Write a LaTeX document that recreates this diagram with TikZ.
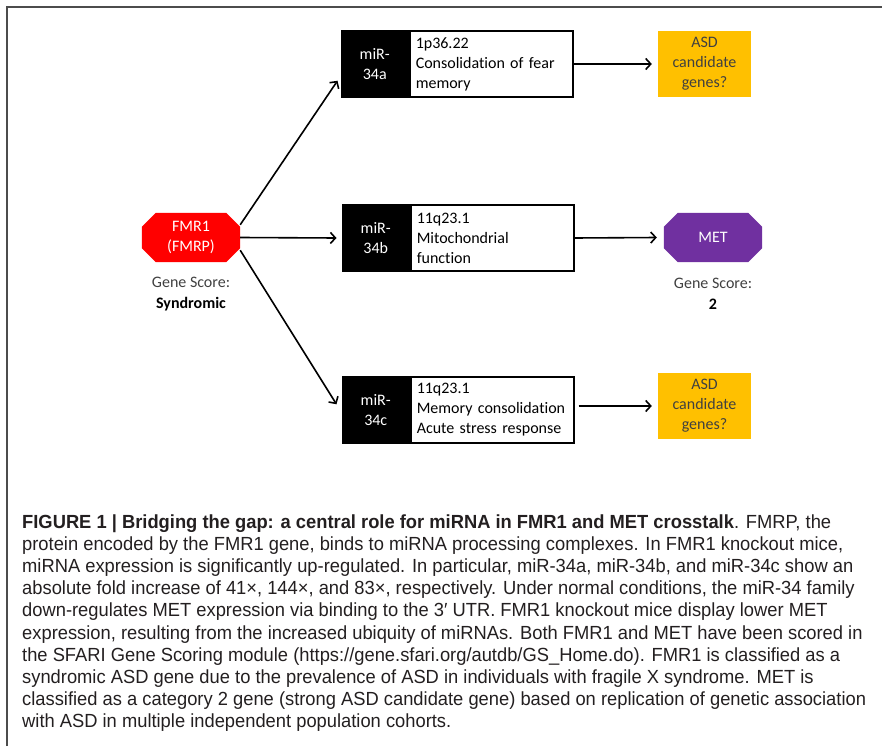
\documentclass[tikz,border=0pt]{standalone}
\usepackage{fontspec}
\setmainfont{Carlito}[Ligatures=NoCommon]
\newfontfamily\capfont[FakeStretch=0.965]{Liberation Sans}
\usetikzlibrary{arrows.meta,backgrounds}
\definecolor{fmrred}{HTML}{FF0000}
\definecolor{metpurple}{HTML}{7030A0}
\definecolor{asdgold}{HTML}{FFC000}
\definecolor{captxt}{HTML}{231F20}
\definecolor{gstext}{HTML}{404040}
\begin{document}
\begin{tikzpicture}[x=1pt,y=-1pt,
  dfont/.style={font=\fontsize{16}{20}\selectfont},
  blk/.style={dfont, draw=black, line width=1.5pt, fill=black, text=white, minimum width=67pt, minimum height=66pt, inner sep=0pt, align=center, anchor=east},
  info/.style={dfont, draw=black, line width=1.5pt, fill=white, minimum height=66pt, text width=151pt, inner xsep=6pt, inner ysep=0pt, align=left, anchor=west},
  asd/.style={dfont, fill=asdgold, text=gstext, minimum width=93pt, minimum height=66pt, inner sep=0pt, align=center},
  gene/.style={dfont, minimum width=98pt, minimum height=49pt, inner sep=0pt, align=center, text=white},
  score/.style={dfont, text=gstext, align=center, inner sep=0pt, font=\fontsize{16}{21}\selectfont},
  arr/.style={line width=1.6pt, -{Straight Barb[length=5pt,width=11pt,line width=1.6pt]}},
  capline/.style={anchor=base west, inner sep=0pt, text=captxt, font=\capfont\fontsize{19}{22}\selectfont}
]
\useasboundingbox (0,0) rectangle (882,746);
\draw[line width=1.3pt, gray!60!black] (7,746) -- (7,7) -- (882,7);

% miR boxes
\node[blk] (a34blk) at (409,64) {miR-\\34a};
\node[info] (a34txt) at (409,64) {1p36.22\\Consolidation of fear\\memory};
\node[blk] (b34blk) at (410,238) {miR-\\34b};
\node[info] (b34txt) at (410,238) {11q23.1\\Mitochondrial\\function};
\node[blk] (c34blk) at (410,410) {miR-\\34c};
\node[info] (c34txt) at (410,410) {11q23.1\\Memory consolidation\\Acute stress response};

% ASD boxes
\node[asd] (asd1) at (704.5,64) {ASD\\candidate\\genes?};
\node[asd] (asd3) at (704.5,406) {ASD\\candidate\\genes?};

% genes
\node[gene] (fmr) at (191,237.5) {FMR1\\(FMRP)};
\node[gene] (met) at (713,237.5) {MET};
\begin{scope}[on background layer]
\foreach \g/\c in {fmr/fmrred, met/metpurple}{
  \fill[\c] ([xshift=14pt]\g.north west) -- ([xshift=-14pt]\g.north east) -- ([yshift=-14pt]\g.north east)
    -- ([yshift=14pt]\g.south east) -- ([xshift=-14pt]\g.south east) -- ([xshift=14pt]\g.south west)
    -- ([yshift=14pt]\g.south west) -- ([yshift=-14pt]\g.north west) -- cycle;
}
\end{scope}
\node[score] (fmrscore) at (191,294) {Gene Score:\\\textcolor{black}{\textbf{Syndromic}}};
\node[score] (metscore) at (713,294) {Gene Score:\\\textcolor{black}{\textbf{2}}};

% connectors
\draw[arr] ([yshift=-12pt]fmr.north east) -- ([xshift=-3pt,yshift=17pt]a34blk.south west);
\draw[arr] (fmr.east) -- ([xshift=-5pt]b34blk.west);
\draw[arr] ([yshift=12pt]fmr.south east) -- ([xshift=-5pt,yshift=-28pt]c34blk.north west);
\draw[arr] (a34txt.east) -- ([xshift=-6pt]asd1.west);
\draw[arr] (b34txt.east) -- ([xshift=-7pt]met.west);
\draw[arr] ([xshift=4pt]c34txt.east |- asd3.west) -- ([xshift=-6pt]asd3.west);

% caption
\node[capline] (cap1) at (22,528) {\textbf{FIGURE 1 | Bridging the gap: a central role for miRNA in FMR1 and MET crosstalk}. FMRP, the};
\node[capline] (cap2) at (22,550.2) {protein encoded by the FMR1 gene, binds to miRNA processing complexes. In FMR1 knockout mice,};
\node[capline] (cap3) at (22,572.4) {miRNA expression is significantly up-regulated. In particular, miR-34a, miR-34b, and miR-34c show an};
\node[capline] (cap4) at (22,594.6) {absolute fold increase of 41×, 144×, and 83×, respectively. Under normal conditions, the miR-34 family};
\node[capline] (cap5) at (22,616.8) {down-regulates MET expression via binding to the 3′ UTR. FMR1 knockout mice display lower MET};
\node[capline] (cap6) at (22,639) {expression, resulting from the increased ubiquity of miRNAs. Both FMR1 and MET have been scored in};
\node[capline] (cap7) at (22,661.2) {the SFARI Gene Scoring module (https://gene.sfari.org/autdb/GS\_Home.do). FMR1 is classified as a};
\node[capline] (cap8) at (22,683.4) {syndromic ASD gene due to the prevalence of ASD in individuals with fragile X syndrome. MET is};
\node[capline] (cap9) at (22,705.6) {classified as a category 2 gene (strong ASD candidate gene) based on replication of genetic association};
\node[capline] (cap10) at (22,727.8) {with ASD in multiple independent population cohorts.};
\end{tikzpicture}
\end{document}
